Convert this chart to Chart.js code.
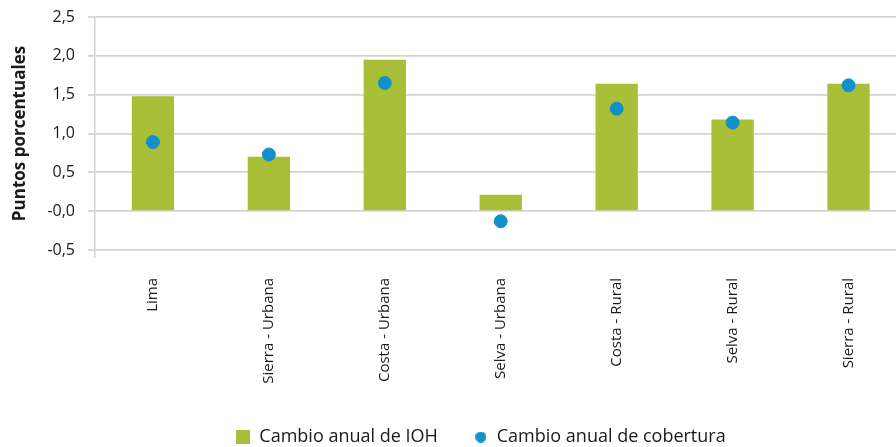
<!DOCTYPE html>
<html>
<head>
<meta charset="utf-8">
<script src="https://cdn.jsdelivr.net/npm/chart.js@4"></script>
<style>
  html, body { margin: 0; padding: 0; background: #fff; overflow: hidden; }
  #wrap { width: 896px; height: 447px; overflow: hidden; }
  canvas { display: block; }
</style>
</head>
<body>
<div id="wrap"><canvas id="c" width="914" height="447"></canvas></div>
<script>
const categories = ["Lima", "Sierra - Urbana", "Costa - Urbana", "Selva - Urbana", "Costa - Rural", "Selva - Rural", "Sierra - Rural"];
const cambioIOH = [1.48, 0.70, 1.95, 0.21, 1.64, 1.18, 1.64];
const cambioCobertura = [0.89, 0.73, 1.65, -0.13, 1.32, 1.14, 1.62];
const seriesNames = ["Cambio anual de IOH", "Cambio anual de cobertura"];
const yAxisTitle = "Puntos porcentuales";

const GREEN = "#a9bf38";
const BLUE = "#1490c8";
const GRID = "#d4d4d4";
const TEXT = "#1a1a1a";
const FONT = "'Open Sans', 'Liberation Sans', sans-serif";

function makeSquare(size, color) {
  const c = document.createElement('canvas');
  c.width = size; c.height = size;
  const x = c.getContext('2d');
  x.fillStyle = color; x.fillRect(0, 0, size, size);
  return c;
}
function makeCircle(size, color) {
  const c = document.createElement('canvas');
  c.width = size; c.height = size;
  const x = c.getContext('2d');
  x.fillStyle = color; x.beginPath();
  x.arc(size / 2, size / 2, size / 2, 0, Math.PI * 2); x.fill();
  return c;
}
const legendSquare = makeSquare(14, GREEN);
const legendCircle = makeCircle(11, BLUE);

// shift the legend block to sit where the original places it
const legendShift = {
  id: 'legendShift',
  afterLayout(chart) {
    const l = chart.legend;
    if (l) { l.left += 16; l.right += 16; }
  }
};

new Chart(document.getElementById('c'), {
  plugins: [legendShift],
  data: {
    labels: categories,
    datasets: [
      {
        type: 'scatter',
        label: seriesNames[1],
        data: cambioCobertura,
        backgroundColor: BLUE,
        borderColor: BLUE,
        pointRadius: 6.5,
        pointHoverRadius: 6.5,
        showLine: false,
        order: 0,
        pointStyle: 'circle'
      },
      {
        type: 'bar',
        label: seriesNames[0],
        data: cambioIOH,
        backgroundColor: GREEN,
        borderWidth: 0,
        barPercentage: 0.73,
        categoryPercentage: 0.5,
        order: 1
      }
    ]
  },
  options: {
    responsive: false,
    animation: false,
    layout: { padding: { top: 17, right: -10, left: 6, bottom: -9 } },
    plugins: {
      tooltip: { enabled: false },
      legend: {
        position: 'bottom',
        labels: {
          usePointStyle: true,
          boxWidth: 14,
          boxHeight: 14,
          padding: 36,
          color: TEXT,
          font: { family: FONT, size: 18 },
          generateLabels(chart) {
            return [
              { text: seriesNames[0], pointStyle: legendSquare, fillStyle: GREEN, strokeStyle: GREEN, lineWidth: 0, datasetIndex: 1, hidden: false, fontColor: TEXT },
              { text: seriesNames[1], pointStyle: legendCircle, fillStyle: BLUE, strokeStyle: BLUE, lineWidth: 0, datasetIndex: 0, hidden: false, fontColor: TEXT }
            ];
          }
        }
      }
    },
    scales: {
      x: {
        type: 'category',
        offset: true,
        afterFit(scale) {
          scale.height = 142;
          scale.paddingLeft = 0;
          scale.paddingRight = 0;
        },
        grid: {
          display: true,
          drawOnChartArea: false,
          drawTicks: true,
          tickLength: 8,
          offset: true,
          lineWidth: 1.5,
          color: (ctx) => ctx.index === 0 ? GRID : 'rgba(0,0,0,0)'
        },
        border: { display: false },
        ticks: {
          maxRotation: 90,
          minRotation: 90,
          padding: 20,
          color: TEXT,
          font: { family: FONT, size: 15 }
        }
      },
      y: {
        min: -0.5,
        max: 2.5,
        afterFit(scale) {
          scale.paddingTop = 0;
          scale.paddingBottom = 0;
        },
        ticks: {
          stepSize: 0.5,
          padding: 13,
          color: TEXT,
          font: { family: FONT, size: 16 },
          callback: (v) => (Math.abs(v) < 1e-9 ? '-0,0' : v.toFixed(1).replace('.', ','))
        },
        grid: {
          color: GRID,
          lineWidth: 1.8,
          tickLength: 7
        },
        border: { display: true, color: GRID, width: 1.5 },
        title: {
          display: true,
          text: yAxisTitle,
          color: TEXT,
          font: { family: FONT, size: 17, weight: 'bold' },
          padding: { top: 4, bottom: 4 }
        }
      }
    }
  }
});
</script>
</body>
</html>
